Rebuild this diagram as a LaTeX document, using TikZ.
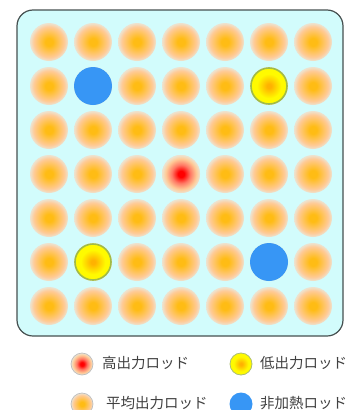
\documentclass[tikz,border=0pt]{standalone}
\usepackage{fontspec}
\newfontfamily\jpfont{Noto Sans CJK JP}
\definecolor{poolbg}{RGB}{210,252,252}
\definecolor{poolline}{RGB}{70,80,80}
\definecolor{rodcore}{RGB}{255,188,20}
\definecolor{rodedge}{RGB}{255,202,150}
\definecolor{rodfade}{RGB}{236,228,210}
\definecolor{hotcore}{RGB}{255,0,0}
\definecolor{hotmid}{RGB}{255,120,100}
\definecolor{lowcore}{RGB}{255,178,0}
\definecolor{lowedge}{RGB}{255,250,0}
\definecolor{lowline}{RGB}{160,188,70}
\definecolor{coldrod}{RGB}{55,150,245}
\definecolor{legline}{RGB}{190,190,190}
\definecolor{legtext}{RGB}{64,64,64}
\pgfdeclareradialshading{rodavg}{\pgfpoint{0bp}{0bp}}{color(0bp)=(rodcore); color(5bp)=(rodcore); color(20bp)=(rodedge); color(25bp)=(rodfade); color(50bp)=(rodfade)}
\pgfdeclareradialshading{rodhigh}{\pgfpoint{0bp}{0bp}}{color(0bp)=(hotcore); color(4bp)=(hotcore); color(12bp)=(hotmid); color(20bp)=(rodedge); color(25bp)=(rodfade); color(50bp)=(rodfade)}
\pgfdeclareradialshading{rodlow}{\pgfpoint{0bp}{0bp}}{color(0bp)=(lowcore); color(3bp)=(lowcore); color(17bp)=(lowedge); color(50bp)=(lowedge)}
\begin{document}
\begin{tikzpicture}[x=1pt,y=-1pt,line join=round,
  font=\jpfont\fontsize{14.5}{16}\selectfont,
  legtxt/.style={anchor=west,inner sep=2pt,text=legtext}]
\useasboundingbox (0,0) rectangle (348,410);
\clip (0,0) rectangle (348,410);
% pool
\draw[poolline,fill=poolbg,line width=1.2pt,rounded corners=16pt] (17,10) rectangle (343,336);
% rods
\foreach \i in {0,...,6}
  \foreach \j in {0,...,6}
    \shade[shading=rodavg] ({49+44*\i},{42+44*\j}) circle (19pt);
\shade[shading=rodhigh] (181,174) circle (19pt);
\foreach \p in {(269,86),(93,262)}
  \shadedraw[shading=rodlow,draw=lowline,line width=1.6pt] \p circle (18pt);
\foreach \p in {(93,86),(269,262)}
  \fill[coldrod] \p circle (19pt);
% legend
\path
  (82,364) coordinate (lg1)
  (82,404) coordinate (lg2)
  (241,364) coordinate (lg3)
  (241,404) coordinate (lg4)
  ;
\shadedraw[shading=rodhigh,draw=legline,line width=0.7pt] (lg1) circle (11pt);
\shadedraw[shading=rodavg,draw=legline,line width=0.7pt] (lg2) circle (11pt);
\shadedraw[shading=rodlow,draw=lowline!60!legline,line width=0.8pt] (lg3) circle (11pt);
\fill[coldrod] (lg4) circle (11.5pt);
\node[legtxt] (high) at (100,363) {高出力ロッド};
\node[legtxt] (avg) at (104,403) {平均出力ロッド};
\node[legtxt] (low) at (258,363) {低出力ロッド};
\node[legtxt] (cold) at (258,403) {非加熱ロッド};
\end{tikzpicture}
\end{document}
